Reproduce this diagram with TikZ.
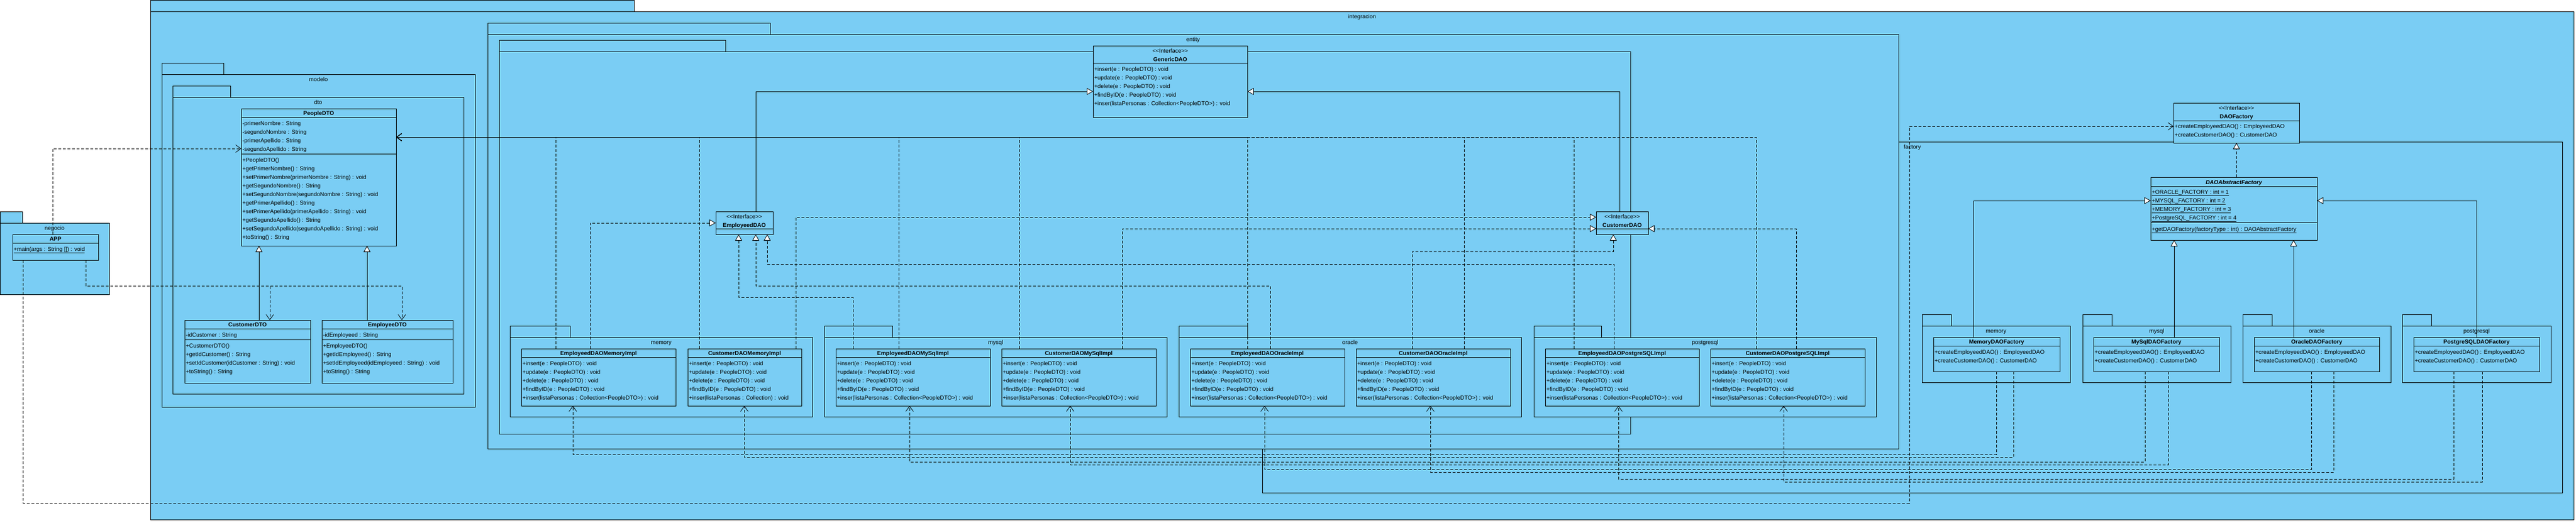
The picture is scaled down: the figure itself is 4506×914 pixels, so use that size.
\documentclass[tikz,border=0pt]{standalone}
\usepackage{fontspec}
\setmainfont{Liberation Sans}
\usetikzlibrary{arrows.meta,calc}
\definecolor{vpblue}{RGB}{122,205,244}
\newcommand\stI{<\kern0pt<Interface>\kern0pt>}
\tikzset{
  pkgbox/.style={draw=black, fill=vpblue, line width=1bp, inner sep=0pt, outer sep=0pt},
  clsbox/.style={draw=black, fill=vpblue, line width=1bp, inner sep=0pt, outer sep=0pt},
  lbl/.style={inner sep=0pt, outer sep=0pt, font=\fontsize{10}{15}\selectfont},
  ttl/.style={inner sep=0pt, outer sep=0pt, font=\fontsize{10}{15}\selectfont\bfseries},
  sepline/.style={line width=1bp},
  dep/.style={draw, line width=0.8bp, dash pattern=on 5bp off 3bp, -{Straight Barb[length=9bp,width=13bp,line width=0.8bp]}},
  real/.style={draw, line width=0.8bp, dash pattern=on 5bp off 3bp, -{Triangle[length=11bp,width=12bp,fill=white,line width=0.8bp]}},
  gen/.style={draw, line width=0.8bp, -{Triangle[length=11bp,width=12bp,fill=white,line width=0.8bp]}}
}
\newcommand\umlpkg[7]{%
  \node[pkgbox, anchor=north west, minimum width=#4bp, minimum height=20bp] (#1-tab) at (#2,#3) {};
  \node[pkgbox, anchor=north west, minimum width=#5bp, minimum height=#6bp] (#1) at (#2,#3+20) {};
  \node[lbl, anchor=base] (#1-lbl) at ($(#1.north)+(0,12)$) {#7};}
\newcommand\umlcls[5]{\node[clsbox, anchor=north west, minimum width=#4bp, minimum height=#5bp] (#1) at (#2,#3) {};}
\newcommand\umlsep[2]{\draw[sepline] ($(#1.north west)+(0,#2)$) -- ($(#1.north east)+(0,#2)$);}
\newcommand\umltitle[3]{\node[ttl, anchor=base] (#1-t) at ($(#1.north)+(0,#2)$) {#3};}
\newcommand\umlstereo[3]{\node[lbl, anchor=base] (#1-s) at ($(#1.north)+(0,#2)$) {#3};}
\newcommand\umlmems[4]{\foreach \mline [count=\mi from 0] in {#4}{\node[lbl, anchor=base west] (#1-#2\mi) at ($(#1.north west)+(2,#3+15*\mi)$) {\mline};}}
\newcommand\implcls[4]{% name x width title
  \umlcls{#1}{#2}{610}{#3}{100}
  \umltitle{#1}{11.5}{#4}
  \umlsep{#1}{15}
  \umlmems{#1}{m}{29}{{+insert(e : PeopleDTO) : void},{+update(e : PeopleDTO) : void},{+delete(e : PeopleDTO) : void},{+findByID(e : PeopleDTO) : void},{+inser(listaPersonas : Collection<PeopleDTO>) : void}}}
\newcommand\factcls[4]{% name x width title
  \umlcls{#1}{#2}{590}{#3}{60}
  \umltitle{#1}{11}{#4}
  \umlsep{#1}{15}
  \umlmems{#1}{m}{29}{{+createEmployeedDAO() : EmployeedDAO},{+createCustomerDAO() : CustomerDAO}}}
\begin{document}
\begin{tikzpicture}[x=1bp, y=-1bp]
\useasboundingbox (0,0) rectangle (4506,914);
\fill[white] (0,0) rectangle (4506,914);

% ---------- packages ----------
\umlpkg{integracion}{263}{0}{846}{4239}{889}{integracion}
\umlpkg{negocio}{0}{370}{39}{191}{125}{negocio}
\umlpkg{factory}{2208}{228}{455}{2274}{614}{factory}
\umlpkg{entity}{853}{40}{494}{2468}{725}{entity}
\umlpkg{dao}{873}{70}{396}{1979}{669}{}
\umlpkg{modelo}{283}{110}{108}{548}{582}{modelo}
\umlpkg{dto}{302}{150}{101}{509}{519}{dto}

\umlpkg{pmemory}{892}{570}{105}{529}{139}{memory}
\umlpkg{pmysql}{1442}{570}{119}{599}{139}{mysql}
\umlpkg{poracle}{2062}{570}{120}{599}{139}{oracle}
\umlpkg{ppostgres}{2683}{570}{118}{599}{139}{postgresql}

\umlpkg{fmemory}{3362}{550}{51}{259}{99}{memory}
\umlpkg{fmysql}{3643}{550}{51}{259}{99}{mysql}
\umlpkg{foracle}{3923}{550}{51}{259}{99}{oracle}
\umlpkg{fpostgres}{4202}{550}{51}{260}{99}{postgresql}

% ---------- negocio ----------
\umlcls{APP}{22}{410}{150}{45}
\umltitle{APP}{11}{APP}
\umlsep{APP}{15}
\umlmems{APP}{m}{29}{{\underline{+main(args : String []) : void}}}

% ---------- dto ----------
\umlcls{PeopleDTO}{422}{190}{271}{240}
\umltitle{PeopleDTO}{11.5}{PeopleDTO}
\umlsep{PeopleDTO}{15}
\umlmems{PeopleDTO}{a}{29}{{-primerNombre : String},{-segundoNombre : String},{-primerApellido : String},{-segundoApellido : String}}
\umlsep{PeopleDTO}{79}
\umlmems{PeopleDTO}{m}{93}{{+PeopleDTO()},{+getPrimerNombre() : String},{+setPrimerNombre(primerNombre : String) : void},{+getSegundoNombre() : String},{+setSegundoNombre(segundoNombre : String) : void},{+getPrimerApellido() : String},{+setPrimerApellido(primerApellido : String) : void},{+getSegundoApellido() : String},{+setSegundoApellido(segundoApellido : String) : void},{+toString() : String}}

\umlcls{CustDTO}{323}{560}{220}{110}
\umltitle{CustDTO}{11.5}{CustomerDTO}
\umlsep{CustDTO}{15}
\umlmems{CustDTO}{a}{29}{{-idCustomer : String}}
\umlsep{CustDTO}{34}
\umlmems{CustDTO}{m}{48}{{+CustomerDTO()},{+getIdCustomer() : String},{+setIdCustomer(idCustomer : String) : void},{+toString() : String}}

\umlcls{EmpDTO}{563}{560}{229}{110}
\umltitle{EmpDTO}{11.5}{EmployeeDTO}
\umlsep{EmpDTO}{15}
\umlmems{EmpDTO}{a}{29}{{-idEmployeed : String}}
\umlsep{EmpDTO}{34}
\umlmems{EmpDTO}{m}{48}{{+EmployeeDTO()},{+getIdEmployeed() : String},{+setIdEmployeed(idEmployeed : String) : void},{+toString() : String}}

% ---------- entity ----------
\umlcls{GenericDAO}{1912}{80}{270}{125}
\umlstereo{GenericDAO}{12}{\stI}
\umltitle{GenericDAO}{27}{GenericDAO}
\umlsep{GenericDAO}{30}
\umlmems{GenericDAO}{m}{44}{{+insert(e : PeopleDTO) : void},{+update(e : PeopleDTO) : void},{+delete(e : PeopleDTO) : void},{+findByID(e : PeopleDTO) : void},{+inser(listaPersonas : Collection<PeopleDTO>) : void}}

\umlcls{EmpDAO}{1252}{370}{100}{40}
\umlstereo{EmpDAO}{12}{\stI}
\umltitle{EmpDAO}{27}{EmployeedDAO}
\umlsep{EmpDAO}{30}

\umlcls{CustDAO}{2792}{370}{91}{40}
\umlstereo{CustDAO}{12}{\stI}
\umltitle{CustDAO}{27}{CustomerDAO}
\umlsep{CustDAO}{30}

% ---------- implementations ----------
\implcls{EmpMem}{912}{270}{EmployeedDAOMemoryImpl}
\umlcls{CustMem}{1203}{610}{199}{100}
\umltitle{CustMem}{11.5}{CustomerDAOMemoryImpl}
\umlsep{CustMem}{15}
\umlmems{CustMem}{m}{29}{{+insert(e : PeopleDTO) : void},{+update(e : PeopleDTO) : void},{+delete(e : PeopleDTO) : void},{+findByID(e : PeopleDTO) : void},{+inser(listaPersonas : Collection) : void}}
\implcls{EmpMySql}{1462}{270}{EmployeedDAOMySqlImpl}
\implcls{CustMySql}{1752}{270}{CustomerDAOMySqlImpl}
\implcls{EmpOracle}{2082}{270}{EmployeedDAOOracleImpl}
\implcls{CustOracle}{2372}{270}{CustomerDAOOracleImpl}
\implcls{EmpPg}{2703}{269}{EmployeedDAOPostgreSQLImpl}
\implcls{CustPg}{2992}{270}{CustomerDAOPostgreSQLImpl}

% ---------- factory ----------
\umlcls{DAOF}{3802}{180}{220}{70}
\umlstereo{DAOF}{12}{\stI}
\umltitle{DAOF}{27}{DAOFactory}
\umlsep{DAOF}{31}
\umlmems{DAOF}{m}{44}{{+createEmployeedDAO() : EmployeedDAO},{+createCustomerDAO() : CustomerDAO}}

\umlcls{DAOAF}{3762}{310}{291}{110}
\umltitle{DAOAF}{12}{\itshape DAOAbstractFactory}
\umlsep{DAOAF}{16}
\umlmems{DAOAF}{a}{29}{{\underline{+ORACLE\_FACTORY : int = 1}},{\underline{+MYSQL\_FACTORY : int = 2}},{\underline{+MEMORY\_FACTORY : int = 3}},{\underline{+PostgreSQL\_FACTORY : int = 4}}}
\umlsep{DAOAF}{79}
\umlmems{DAOAF}{m}{94}{{\underline{+getDAOFactory(factoryType : int) : DAOAbstractFactory}}}

\factcls{MemF}{3382}{221}{MemoryDAOFactory}
\factcls{MySqlF}{3662}{220}{MySqlDAOFactory}
\factcls{OracleF}{3943}{219}{OracleDAOFactory}
\factcls{PgF}{4222}{220}{PostgreSQLDAOFactory}

% ---------- generalizations ----------
\draw[gen] ($(CustDTO.north west)+(130,0)$) -- ($(PeopleDTO.south west)+(31,0)$);
\draw[gen] ($(EmpDTO.north west)+(79,0)$) -- ($(PeopleDTO.south west)+(220,0)$);
\draw[gen] ($(EmpDAO.north west)+(70,0)$) |- ($(GenericDAO.north west)+(0,80)$);
\draw[gen] ($(CustDAO.north west)+(41,0)$) |- ($(GenericDAO.north east)+(0,80)$);
\draw[gen] ($(MemF.north west)+(70,0)$) |- ($(DAOAF.north west)+(0,41)$);
\draw[gen] ($(MySqlF.north west)+(141,0)$) -- ($(DAOAF.south west)+(41,0)$);
\draw[gen] ($(OracleF.north west)+(69,0)$) -- ($(DAOAF.south west)+(250,0)$);
\draw[gen] ($(PgF.north west)+(110,0)$) |- ($(DAOAF.north east)+(0,41)$);
\draw[real] ($(DAOAF.north west)+(150,0)$) -- ($(DAOF.south west)+(110,0)$);

% ---------- realizations of the DAO interfaces ----------
\draw[real] ($(EmpMem.north west)+(120,0)$) |- ($(EmpDAO.north west)+(0,20)$);
\draw[real] ($(EmpMySql.north west)+(30,0)$) -- ++(0,-90) -| ($(EmpDAO.south west)+(40,0)$);
\draw[real] ($(EmpOracle.north west)+(140,0)$) -- ++(0,-110) -| ($(EmpDAO.south west)+(70,0)$);
\draw[real] ($(EmpPg.north west)+(120,0)$) -- ++(0,-148) -| ($(EmpDAO.south west)+(90,0)$);
\draw[real] ($(CustMem.north west)+(189,0)$) |- ($(CustDAO.north west)+(0,10)$);
\draw[real] ($(CustMySql.north west)+(211,0)$) |- ($(CustDAO.north west)+(0,30)$);
\draw[real] ($(CustOracle.north west)+(98,0)$) -- ++(0,-170) -| ($(CustDAO.south west)+(30,0)$);
\draw[real] ($(CustPg.north west)+(150,0)$) |- ($(CustDAO.north east)+(0,30)$);

% ---------- dependencies on PeopleDTO ----------
\draw[dep] ($(EmpMem.north west)+(60,0)$) |- ($(PeopleDTO.north east)+(0,50)$);
\draw[dep] ($(CustMem.north west)+(20,0)$) |- ($(PeopleDTO.north east)+(0,50)$);
\draw[dep] ($(EmpMySql.north west)+(110,0)$) |- ($(PeopleDTO.north east)+(0,50)$);
\draw[dep] ($(CustMySql.north west)+(31,0)$) |- ($(PeopleDTO.north east)+(0,50)$);
\draw[dep] ($(EmpOracle.north west)+(100,0)$) |- ($(PeopleDTO.north east)+(0,50)$);
\draw[dep] ($(CustOracle.north west)+(189,0)$) |- ($(PeopleDTO.north east)+(0,50)$);
\draw[dep] ($(EmpPg.north west)+(50,0)$) |- ($(PeopleDTO.north east)+(0,50)$);
\draw[dep] ($(CustPg.north west)+(80,0)$) |- ($(PeopleDTO.north east)+(0,50)$);

% ---------- factories create implementations ----------
\draw[dep] ($(MemF.south west)+(110,0)$) -- ++(0,145) -| ($(EmpMem.south west)+(90,0)$);
\draw[dep] ($(MemF.south west)+(140,0)$) -- ++(0,150) -| ($(CustMem.south west)+(99,0)$);
\draw[dep] ($(MySqlF.south west)+(90,0)$) -- ++(0,158) -| ($(EmpMySql.south west)+(129,0)$);
\draw[dep] ($(MySqlF.south west)+(131,0)$) -- ++(0,163) -| ($(CustMySql.south west)+(120,0)$);
\draw[dep] ($(OracleF.south west)+(100,0)$) -- ++(0,171) -| ($(EmpOracle.south west)+(130,0)$);
\draw[dep] ($(OracleF.south west)+(139,0)$) -- ++(0,176) -| ($(CustOracle.south west)+(130,0)$);
\draw[dep] ($(PgF.south west)+(70,0)$) -- ++(0,188) -| ($(EmpPg.south west)+(128,0)$);
\draw[dep] ($(PgF.south west)+(120,0)$) -- ++(0,193) -| ($(CustPg.south west)+(128,0)$);

% ---------- APP dependencies ----------
\draw[dep] ($(APP.north west)+(70,0)$) |- ($(PeopleDTO.north west)+(0,70)$);
\draw[dep] ($(APP.south west)+(128,0)$) -- ++(0,45) -| ($(CustDTO.north west)+(149,0)$);
\draw[dep] ($(APP.south west)+(128,0)$) -- ++(0,45) -| ($(EmpDTO.north west)+(140,0)$);
\draw[dep] ($(APP.south west)+(18,0)$) -- ++(0,425) -- ++(3300,0) |- ($(DAOF.north west)+(0,41)$);
\end{tikzpicture}
\end{document}
